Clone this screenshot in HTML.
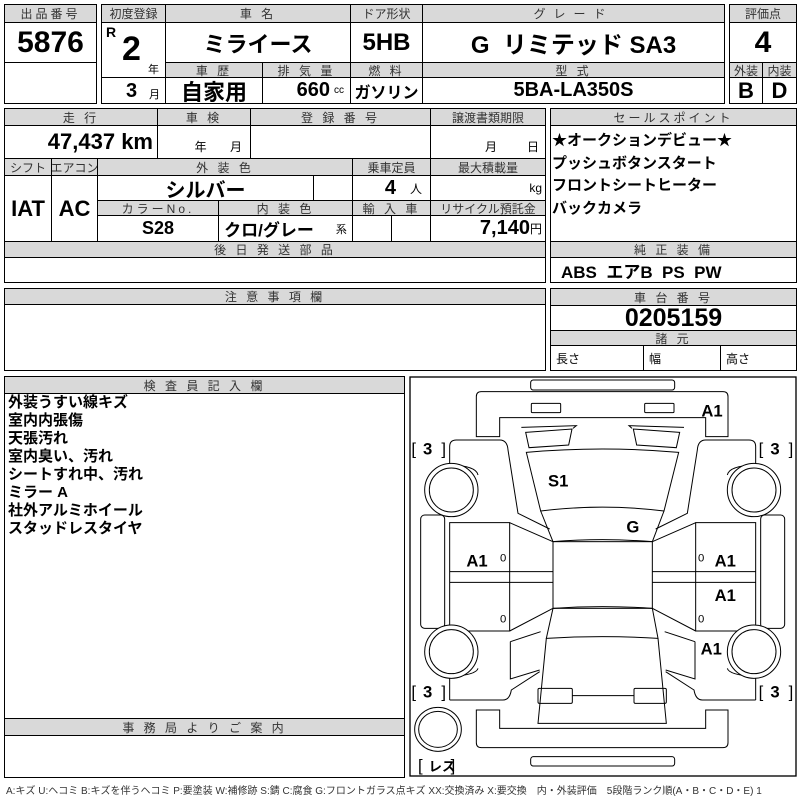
<!DOCTYPE html>
<html><head><meta charset="utf-8"><style>
body{margin:0;width:800px;height:800px;background:#fff;position:relative;overflow:hidden;font-family:"Liberation Sans","Noto Sans CJK JP",sans-serif;}
.c{position:absolute;box-sizing:border-box;border:1px solid #000;display:flex;align-items:center;justify-content:center;white-space:nowrap;overflow:hidden;}
.h{background:#d9d9d9;font-size:12px;color:#333;letter-spacing:3px;}
.v{font-family:"Liberation Sans Narrow","Liberation Sans","Noto Sans CJK JP",sans-serif;font-weight:bold;color:#000;}
.t{position:absolute;white-space:nowrap;}
</style></head><body>
<!-- box1 -->
<div class="c h" style="left:4px;top:4px;width:93px;height:19px">出品番号</div>
<div class="c v" style="left:4px;top:22px;width:93px;height:41px;font-size:30px">5876</div>
<div class="c" style="left:4px;top:62px;width:93px;height:42px"></div>
<!-- box2 -->
<div class="c h" style="left:101px;top:4px;width:65px;height:19px;letter-spacing:0">初度登録</div>
<div class="c h" style="left:165px;top:4px;width:186px;height:19px">車 名</div>
<div class="c h" style="left:350px;top:4px;width:73px;height:19px;letter-spacing:0">ドア形状</div>
<div class="c h" style="left:422px;top:4px;width:303px;height:19px;letter-spacing:8px">グレード</div>
<div class="c" style="left:101px;top:22px;width:65px;height:56px"></div>
<div class="c" style="left:101px;top:77px;width:65px;height:27px"></div>
<div class="t v" style="left:106px;top:24px;font-size:14px">R</div>
<div class="t v" style="left:122px;top:30px;font-size:34px">2</div>
<div class="t" style="left:148px;top:61px;font-size:11px">年</div>
<div class="t v" style="left:126px;top:80px;font-size:20px">3</div>
<div class="t" style="left:149px;top:86px;font-size:11px">月</div>
<div class="c v" style="left:165px;top:22px;width:186px;height:41px;font-size:22px">ミライース</div>
<div class="c v" style="left:350px;top:22px;width:73px;height:41px;font-size:24px">5HB</div>
<div class="c v" style="left:422px;top:22px;width:303px;height:41px;font-size:24px">G&nbsp;&nbsp;リミテッド&nbsp;SA3</div>
<div class="c h" style="left:165px;top:62px;width:98px;height:16px">車 歴</div>
<div class="c h" style="left:262px;top:62px;width:89px;height:16px">排 気 量</div>
<div class="c h" style="left:350px;top:62px;width:73px;height:16px">燃 料</div>
<div class="c h" style="left:422px;top:62px;width:303px;height:16px">型 式</div>
<div class="c v" style="left:165px;top:77px;width:98px;height:27px;font-size:22px">自家用</div>
<div class="c v" style="left:262px;top:77px;width:89px;height:27px;font-size:20px;justify-content:flex-end;padding-right:6px">660 <span style="font-size:10px;font-weight:normal;margin-left:4px">cc</span></div>
<div class="c v" style="left:350px;top:77px;width:73px;height:27px;font-size:16px">ガソリン</div>
<div class="c v" style="left:422px;top:77px;width:303px;height:27px;font-size:20px">5BA-LA350S</div>
<!-- box3 -->
<div class="c h" style="left:729px;top:4px;width:68px;height:19px;letter-spacing:0">評価点</div>
<div class="c v" style="left:729px;top:22px;width:68px;height:41px;font-size:30px">4</div>
<div class="c h" style="left:729px;top:62px;width:34px;height:16px;letter-spacing:0">外装</div>
<div class="c h" style="left:762px;top:62px;width:35px;height:16px;letter-spacing:0">内装</div>
<div class="c v" style="left:729px;top:77px;width:34px;height:27px;font-size:22px">B</div>
<div class="c v" style="left:762px;top:77px;width:35px;height:27px;font-size:22px">D</div>
<!-- section2 -->
<div class="c h" style="left:4px;top:108px;width:154px;height:18px">走 行</div>
<div class="c h" style="left:157px;top:108px;width:94px;height:18px">車 検</div>
<div class="c h" style="left:250px;top:108px;width:181px;height:18px">登 録 番 号</div>
<div class="c h" style="left:430px;top:108px;width:116px;height:18px;letter-spacing:0">譲渡書類期限</div>
<div class="c v" style="left:4px;top:125px;width:154px;height:34px;font-size:22px;justify-content:flex-end;padding-right:4px">47,437 km</div>
<div class="c" style="left:157px;top:125px;width:94px;height:34px;font-size:12px;align-items:flex-end;padding-bottom:3px;justify-content:flex-end;padding-right:8px">年&nbsp;&nbsp;&nbsp;&nbsp;&nbsp;&nbsp;&nbsp;月</div>
<div class="c" style="left:250px;top:125px;width:181px;height:34px"></div>
<div class="c" style="left:430px;top:125px;width:116px;height:34px;font-size:12px;align-items:flex-end;padding-bottom:3px;justify-content:flex-end;padding-right:6px">月&nbsp;&nbsp;&nbsp;&nbsp;&nbsp;&nbsp;&nbsp;&nbsp;&nbsp;日</div>
<div class="c h" style="left:4px;top:158px;width:48px;height:18px;letter-spacing:0">シフト</div>
<div class="c h" style="left:51px;top:158px;width:47px;height:18px;letter-spacing:0">エアコン</div>
<div class="c h" style="left:97px;top:158px;width:256px;height:18px">外 装 色</div>
<div class="c h" style="left:352px;top:158px;width:79px;height:18px;letter-spacing:0">乗車定員</div>
<div class="c h" style="left:430px;top:158px;width:116px;height:18px;letter-spacing:0">最大積載量</div>
<div class="c v" style="left:4px;top:175px;width:48px;height:67px;font-size:22px">IAT</div>
<div class="c v" style="left:51px;top:175px;width:47px;height:67px;font-size:22px">AC</div>
<div class="c v" style="left:97px;top:175px;width:217px;height:26px;font-size:20px">シルバー</div>
<div class="c" style="left:313px;top:175px;width:40px;height:26px"></div>
<div class="c v" style="left:352px;top:175px;width:79px;height:26px;font-size:20px;justify-content:flex-end;padding-right:8px">4 <span style="font-size:12px;font-weight:normal;margin-left:14px">人</span></div>
<div class="c" style="left:430px;top:175px;width:116px;height:26px;font-size:12px;justify-content:flex-end;padding-right:3px">kg</div>
<div class="c h" style="left:97px;top:200px;width:122px;height:16px">カラーNo.</div>
<div class="c h" style="left:218px;top:200px;width:135px;height:16px">内 装 色</div>
<div class="c h" style="left:352px;top:200px;width:79px;height:16px">輸 入 車</div>
<div class="c h" style="left:430px;top:200px;width:116px;height:16px;letter-spacing:0">リサイクル預託金</div>
<div class="c v" style="left:97px;top:215px;width:122px;height:27px;font-size:18px">S28</div>
<div class="c v" style="left:218px;top:215px;width:135px;height:27px;font-size:17px">クロ/グレー<span style="font-size:11px;font-weight:normal;margin-left:22px">系</span></div>
<div class="c" style="left:352px;top:215px;width:40px;height:27px"></div>
<div class="c" style="left:391px;top:215px;width:40px;height:27px"></div>
<div class="c v" style="left:430px;top:215px;width:116px;height:27px;font-size:20px;justify-content:flex-end;padding-right:3px">7,140<span style="font-size:12px;font-weight:normal">円</span></div>
<div class="c h" style="left:4px;top:241px;width:542px;height:17px">後 日 発 送 部 品</div>
<div class="c" style="left:4px;top:257px;width:542px;height:26px"></div>
<!-- sales point -->
<div class="c h" style="left:550px;top:108px;width:247px;height:18px">セールスポイント</div>
<div class="c" style="left:550px;top:125px;width:247px;height:117px;flex-direction:column;align-items:flex-start;justify-content:flex-start;font-weight:bold;font-size:15px;line-height:22.5px;padding-top:4px;padding-left:1px">
<div>★オークションデビュー★</div><div>プッシュボタンスタート</div><div>フロントシートヒーター</div><div>バックカメラ</div></div>
<div class="c h" style="left:550px;top:241px;width:247px;height:17px">純 正 装 備</div>
<div class="c v" style="left:550px;top:257px;width:247px;height:26px;font-size:17px;justify-content:flex-start;padding-left:10px">ABS&nbsp; エアB&nbsp; PS&nbsp; PW</div>
<!-- caution -->
<div class="c h" style="left:4px;top:288px;width:542px;height:17px">注 意 事 項 欄</div>
<div class="c" style="left:4px;top:304px;width:542px;height:67px"></div>
<div class="c h" style="left:550px;top:288px;width:247px;height:18px">車 台 番 号</div>
<div class="c v" style="left:550px;top:305px;width:247px;height:26px;font-size:25px">0205159</div>
<div class="c h" style="left:550px;top:330px;width:247px;height:16px">諸 元</div>
<div class="c" style="left:550px;top:345px;width:94px;height:26px;font-size:12px;justify-content:flex-start;padding-left:5px">長さ</div>
<div class="c" style="left:643px;top:345px;width:78px;height:26px;font-size:12px;justify-content:flex-start;padding-left:5px">幅</div>
<div class="c" style="left:720px;top:345px;width:77px;height:26px;font-size:12px;justify-content:flex-start;padding-left:5px">高さ</div>
<!-- inspector -->
<div class="c" style="left:4px;top:376px;width:401px;height:402px"></div>
<div class="c h" style="left:4px;top:376px;width:401px;height:18px">検 査 員 記 入 欄</div>
<div class="t" style="left:8px;top:394px;font-size:15px;font-weight:bold;line-height:18px">外装うすい線キズ<br>室内内張傷<br>天張汚れ<br>室内臭い、汚れ<br>シートすれ中、汚れ<br>ミラー A<br>社外アルミホイール<br>スタッドレスタイヤ</div>
<div class="c h" style="left:4px;top:718px;width:401px;height:18px">事 務 局 よ り ご 案 内</div>
<!-- diagram -->
<svg style="position:absolute;left:408px;top:375px" width="392" height="425" viewBox="0 0 1176 1275" fill="none" stroke="#000" stroke-width="3">
<rect x="6" y="6" width="1158" height="1197" stroke-width="4"/>
<rect x="368" y="15" width="432" height="30" rx="8"/>
<rect x="368" y="1145" width="432" height="28" rx="8"/>
<path d="M220,50 H945 Q960,50 960,65 V185 H893 V128 H275 V185 H205 V65 Q205,50 220,50Z"/>
<path d="M220,1118 H945 Q960,1118 960,1103 V1005 H893 V1060 H275 V1005 H205 V1103 Q205,1118 220,1118Z"/>
<rect x="370" y="85" width="88" height="28" rx="3"/>
<rect x="710" y="85" width="88" height="28" rx="3"/>
<path d="M340,157 L505,152 L495,160"/><path d="M828,157 L663,152 L672,160"/>
<path d="M353,172 L492,162 L482,210 L363,218Z"/>
<path d="M815,172 L676,162 L686,210 L805,218Z"/>
<path d="M355,232 Q583,212 812,232 L768,408 Q583,385 398,408Z"/>
<path d="M398,408 L435,500 Q583,488 733,500 L768,408"/>
<rect x="435" y="500" width="298" height="200"/>
<path d="M435,700 Q583,690 733,700 L750,790 Q583,780 415,790Z"/>
<path d="M415,790 L390,1045 H775 L750,790"/>
<rect x="390" y="940" width="103" height="45" rx="4"/>
<rect x="678" y="940" width="97" height="45" rx="4"/>
<path d="M493,962 H678"/>
<g id="L">
<path d="M125,270 V215 Q125,195 145,195 H275 Q298,195 300,225 L330,415 L425,462"/>
<path d="M125,270 Q205,272 210,300"/>
<path d="M125,975 H285 Q305,975 310,945 L395,890"/>
<path d="M125,975 V905 Q205,900 210,880"/>
<rect x="38" y="420" width="72" height="340" rx="12"/>
<path d="M125,443 H305 V768 H125Z"/>
<path d="M125,590 H435 M125,622 H435"/>
<path d="M305,443 L435,500 M305,768 L435,700"/>
<path d="M307,800 L398,770 M307,800 V912 L395,885"/>
<circle cx="130" cy="345" r="80" fill="#fff"/><circle cx="130" cy="345" r="66"/>
<circle cx="130" cy="830" r="80" fill="#fff"/><circle cx="130" cy="830" r="66"/>
</g>
<use href="#L" transform="translate(1168,0) scale(-1,1)"/>
<ellipse cx="90" cy="1063" rx="70" ry="66"/><ellipse cx="90" cy="1063" rx="58" ry="54"/>
<g stroke="none" fill="#000" font-family="Liberation Sans Narrow,Liberation Sans,sans-serif" font-weight="bold" font-size="50">
<text x="880" y="125">A1</text><text x="420" y="335">S1</text><text x="655" y="472">G</text>
<text x="175" y="575">A1</text><text x="920" y="575">A1</text><text x="920" y="678">A1</text><text x="878" y="838">A1</text>
<text x="10" y="238" font-weight="normal">[</text><text x="45" y="238">3</text><text x="100" y="238" font-weight="normal">]</text>
<text x="1052" y="238" font-weight="normal">[</text><text x="1087" y="238">3</text><text x="1142" y="238" font-weight="normal">]</text>
<text x="10" y="968" font-weight="normal">[</text><text x="45" y="968">3</text><text x="100" y="968" font-weight="normal">]</text>
<text x="1052" y="968" font-weight="normal">[</text><text x="1087" y="968">3</text><text x="1142" y="968" font-weight="normal">]</text>
<text x="30" y="1188" font-weight="normal">[</text><text x="62" y="1188" font-size="40" font-family="Noto Sans CJK JP,sans-serif">レス</text><text x="128" y="1188" font-weight="normal">]</text>
<g font-weight="normal" font-size="34"><text x="276" y="560">0</text><text x="276" y="742">0</text><text x="870" y="560">0</text><text x="870" y="742">0</text></g>
</g>
</svg>
<div class="t" style="left:6px;top:782px;font-size:10px;color:#333">A:キズ U:ヘコミ B:キズを伴うヘコミ P:要塗装 W:補修跡 S:錆 C:腐食 G:フロントガラス点キズ XX:交換済み X:要交換　内・外装評価　5段階ランク順(A・B・C・D・E) 1</div>
</body></html>
